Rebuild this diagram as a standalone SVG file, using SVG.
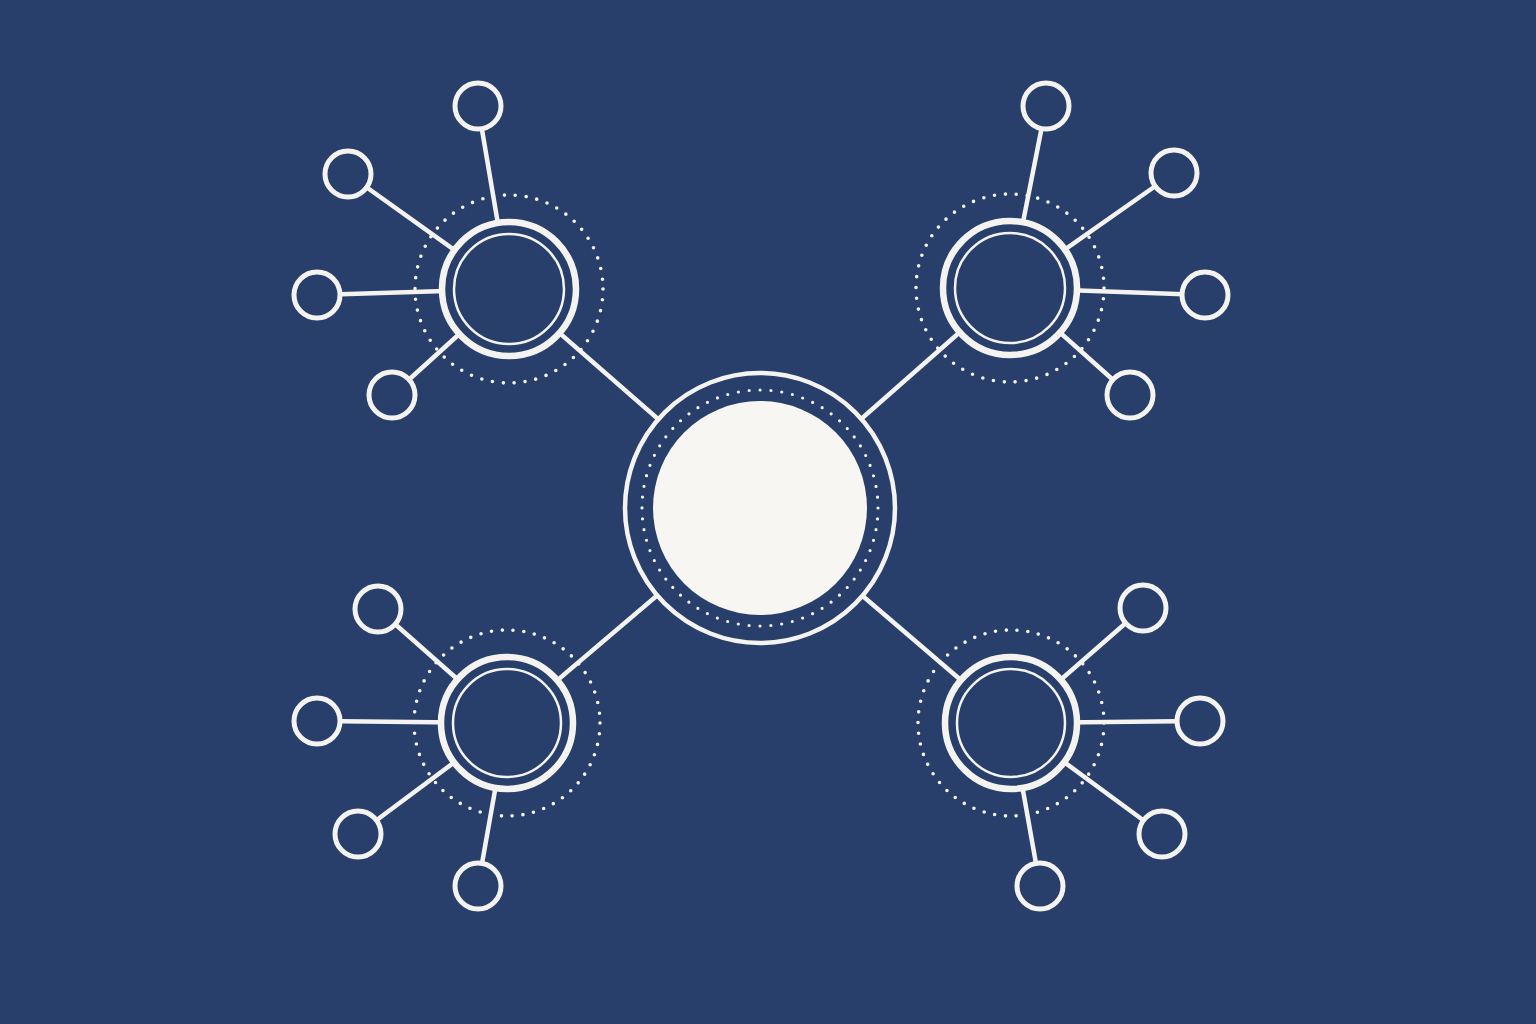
<svg xmlns="http://www.w3.org/2000/svg" width="1536" height="1024" viewBox="0 0 1536 1024">
<style>
.bg{fill:#273F6A}
.ln{stroke:#F5F3EF;stroke-width:4.5;stroke-linecap:round;fill:none}
.leaf{fill:#273F6A;stroke:#F5F3EF;stroke-width:5}
.hubo{fill:#273F6A;stroke:#F5F3EF;stroke-width:6.5}
.hubi{fill:none;stroke:#F5F3EF;stroke-width:2.5}
.dots{fill:none;stroke:#F5F3EF;stroke-width:3.6;stroke-linecap:round}
</style>
<rect class="bg" x="0" y="0" width="1536" height="1024"/>
<g id="connectors">
<line class="ln" x1="760" y1="508" x2="509" y2="289"/>
<line class="ln" x1="760" y1="508" x2="1010" y2="288"/>
<line class="ln" x1="760" y1="508" x2="507" y2="723"/>
<line class="ln" x1="760" y1="508" x2="1011" y2="723"/>
<line class="ln" x1="509" y1="289" x2="478" y2="106"/>
<line class="ln" x1="509" y1="289" x2="348" y2="174"/>
<line class="ln" x1="509" y1="289" x2="317" y2="295"/>
<line class="ln" x1="509" y1="289" x2="392" y2="395"/>
<line class="ln" x1="1010" y1="288" x2="1046" y2="106"/>
<line class="ln" x1="1010" y1="288" x2="1174" y2="173"/>
<line class="ln" x1="1010" y1="288" x2="1205" y2="295"/>
<line class="ln" x1="1010" y1="288" x2="1130" y2="395"/>
<line class="ln" x1="507" y1="723" x2="378" y2="609"/>
<line class="ln" x1="507" y1="723" x2="317" y2="721"/>
<line class="ln" x1="507" y1="723" x2="358" y2="834"/>
<line class="ln" x1="507" y1="723" x2="478" y2="886"/>
<line class="ln" x1="1011" y1="723" x2="1143" y2="608"/>
<line class="ln" x1="1011" y1="723" x2="1200" y2="721"/>
<line class="ln" x1="1011" y1="723" x2="1162" y2="834"/>
<line class="ln" x1="1011" y1="723" x2="1040" y2="886"/>
</g>
<g id="center">
<circle cx="760" cy="508" r="135" fill="#273F6A" stroke="#F5F3EF" stroke-width="4.5"/>
<circle cx="760" cy="508" r="118" fill="none" stroke="#F5F3EF" stroke-width="3.2" stroke-linecap="round" stroke-dasharray="0 10.9"/>
<circle cx="760" cy="508" r="107" fill="#F8F6F2"/>
</g>
<g id="hub-tl">
<circle class="dots" cx="509" cy="289" r="94" stroke-dasharray="0 10.94"/>
<circle class="hubo" cx="509" cy="289" r="67"/>
<circle class="hubi" cx="509" cy="289" r="55"/>
</g>
<g id="hub-tr">
<circle class="dots" cx="1010" cy="288" r="94" stroke-dasharray="0 10.94"/>
<circle class="hubo" cx="1010" cy="288" r="67"/>
<circle class="hubi" cx="1010" cy="288" r="55"/>
</g>
<g id="hub-bl">
<circle class="dots" cx="507" cy="723" r="93" stroke-dasharray="0 10.82"/>
<circle class="hubo" cx="507" cy="723" r="66"/>
<circle class="hubi" cx="507" cy="723" r="54"/>
</g>
<g id="hub-br">
<circle class="dots" cx="1011" cy="723" r="93" stroke-dasharray="0 10.82"/>
<circle class="hubo" cx="1011" cy="723" r="66"/>
<circle class="hubi" cx="1011" cy="723" r="54"/>
</g>
<g id="leaf-tl-1"><circle class="leaf" cx="478" cy="106" r="23"/></g>
<g id="leaf-tl-2"><circle class="leaf" cx="348" cy="174" r="23"/></g>
<g id="leaf-tl-3"><circle class="leaf" cx="317" cy="295" r="23"/></g>
<g id="leaf-tl-4"><circle class="leaf" cx="392" cy="395" r="23"/></g>
<g id="leaf-tr-1"><circle class="leaf" cx="1046" cy="106" r="23"/></g>
<g id="leaf-tr-2"><circle class="leaf" cx="1174" cy="173" r="23"/></g>
<g id="leaf-tr-3"><circle class="leaf" cx="1205" cy="295" r="23"/></g>
<g id="leaf-tr-4"><circle class="leaf" cx="1130" cy="395" r="23"/></g>
<g id="leaf-bl-1"><circle class="leaf" cx="378" cy="609" r="23"/></g>
<g id="leaf-bl-2"><circle class="leaf" cx="317" cy="721" r="23"/></g>
<g id="leaf-bl-3"><circle class="leaf" cx="358" cy="834" r="23"/></g>
<g id="leaf-bl-4"><circle class="leaf" cx="478" cy="886" r="23"/></g>
<g id="leaf-br-1"><circle class="leaf" cx="1143" cy="608" r="23"/></g>
<g id="leaf-br-2"><circle class="leaf" cx="1200" cy="721" r="23"/></g>
<g id="leaf-br-3"><circle class="leaf" cx="1162" cy="834" r="23"/></g>
<g id="leaf-br-4"><circle class="leaf" cx="1040" cy="886" r="23"/></g>
</svg>
